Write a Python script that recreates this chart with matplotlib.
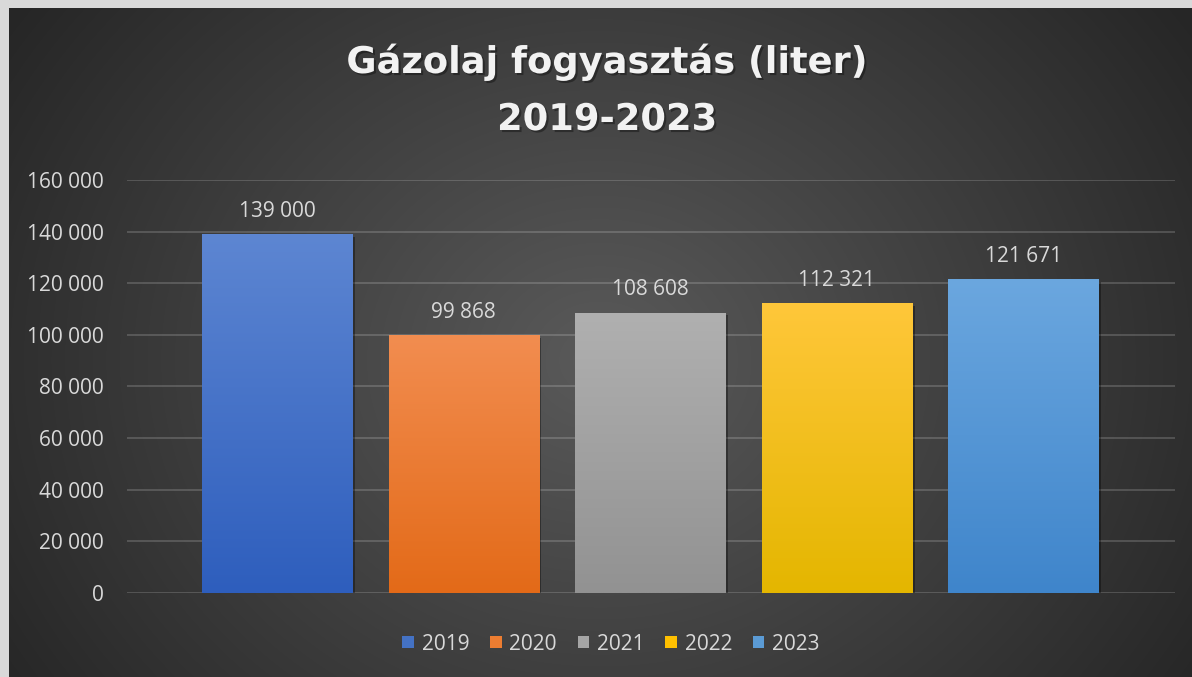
import numpy as np
import matplotlib
matplotlib.use("Agg")
import matplotlib.pyplot as plt
from matplotlib.colors import to_rgb
from matplotlib.patches import Patch
import matplotlib.patheffects as pe

# ---------------- data ----------------
years = ["2019", "2020", "2021", "2022", "2023"]
values = [139000, 99868, 108608, 112321, 121671]
top_colors = ["#5d86d2", "#f28d50", "#b0b0b0", "#ffc73a", "#6ba7df"]
bottom_colors = ["#2e5ebd", "#e36a18", "#929292", "#e4b600", "#3f85cb"]
legend_colors = ["#4472c4", "#ed7d31", "#a5a5a5", "#ffc000", "#5b9bd5"]
yticks = [0, 20000, 40000, 60000, 80000, 100000, 120000, 140000, 160000]
title_lines = ["Gázolaj fogyasztás (liter)", "2019-2023"]

FONT = "Open Sans"
TITLE_FONT = "DejaVu Sans"
TXT = "#d9d9d9"


def fmt(v):
    return f"{v:,.0f}".replace(",", " ")


W, H = 1192, 677
fig = plt.figure(figsize=(W / 100, H / 100), dpi=100, facecolor="#d9d9d9")

# ---------------- background (radial gradient) ----------------
L, T = 9, 8
bg = fig.add_axes([L / W, 0, 1 - L / W, 1 - T / H])
bg.set_axis_off()
yy, xx = np.mgrid[T:H, L:W].astype(float)
cx, cy, rx, ry = 600.0, 360.0, 700.0, 600.0
r = np.sqrt(((xx - cx) / rx) ** 2 + ((yy - cy) / ry) ** 2)
r = np.clip(r, 0, 1)
c_in = np.array(to_rgb("#5a5a5a"))
c_out = np.array(to_rgb("#272727"))
img = c_in[None, None, :] * (1 - r[..., None]) + c_out[None, None, :] * r[..., None]
bg.imshow(img, extent=[0, 1, 0, 1], aspect="auto", origin="upper")
bg.set_xlim(0, 1)
bg.set_ylim(0, 1)

# ---------------- main axes ----------------
x0p, x1p, ytop, ybot = 127, 1175, 180, 593
ax = fig.add_axes([x0p / W, 1 - ybot / H, (x1p - x0p) / W, (ybot - ytop) / H])
ax.patch.set_alpha(0)
for s in ax.spines.values():
    s.set_visible(False)

step = 186.6
bw = 150 / step
xs = np.arange(len(years))
xlim = (-(277 - x0p) / step, 4 + (x1p - 1023.5) / step)
ylim = (0, 160000)

ax.set_yticks(yticks)
ax.set_yticklabels([fmt(v) for v in yticks], fontfamily=FONT)
ax.set_xticks([])
ax.tick_params(axis="y", length=0, pad=16.5, labelsize=15, labelcolor=TXT)
ax.grid(axis="y", color="white", alpha=0.17, linewidth=1.4, zorder=0)
ax.set_axisbelow(True)

bars = ax.bar(xs, values, width=bw, color=bottom_colors, zorder=2,
              path_effects=[pe.SimplePatchShadow(offset=(2, -2), shadow_rgbFace="black", alpha=0.35),
                            pe.Normal()])
for b, ct, cb in zip(bars, top_colors, bottom_colors):
    t = np.linspace(0, 1, 256)[:, None]
    grad = np.array(to_rgb(ct))[None, None, :] * (1 - t[..., None]) + np.array(to_rgb(cb))[None, None, :] * t[..., None]
    im = ax.imshow(grad, extent=[b.get_x(), b.get_x() + b.get_width(), 0, b.get_height()],
                   aspect="auto", origin="upper", zorder=3)
    im.set_clip_path(b)

for x, v in zip(xs, values):
    ax.annotate(fmt(v), (x, v), xytext=(0, 12.5), textcoords="offset points",
                ha="center", va="baseline", fontsize=15, color=TXT, fontfamily=FONT, zorder=4)

ax.set_xlim(*xlim)
ax.set_ylim(*ylim)

# ---------------- title ----------------
title_baselines = [73, 130]
for line, yb in zip(title_lines, title_baselines):
    fig.text(607 / W, 1 - yb / H, line, ha="center", va="baseline", fontsize=26.5,
             fontweight="bold", color="#f2f2f2", fontfamily=TITLE_FONT,
             path_effects=[pe.withSimplePatchShadow(offset=(1.5, -1.5), shadow_rgbFace="black", alpha=0.35)])

# ---------------- legend ----------------
handles = [Patch(facecolor=c, edgecolor="none") for c in legend_colors]
leg = fig.legend(handles, years, loc="center", bbox_to_anchor=(611 / W, 1 - 644 / H), ncol=5,
                 frameon=False, handlelength=0.55, handleheight=0.55, handletextpad=0.38,
                 columnspacing=0.99, prop={"family": FONT, "size": 15})
for t in leg.get_texts():
    t.set_color(TXT)

fig.savefig("out.png", dpi=100, facecolor=fig.get_facecolor())
